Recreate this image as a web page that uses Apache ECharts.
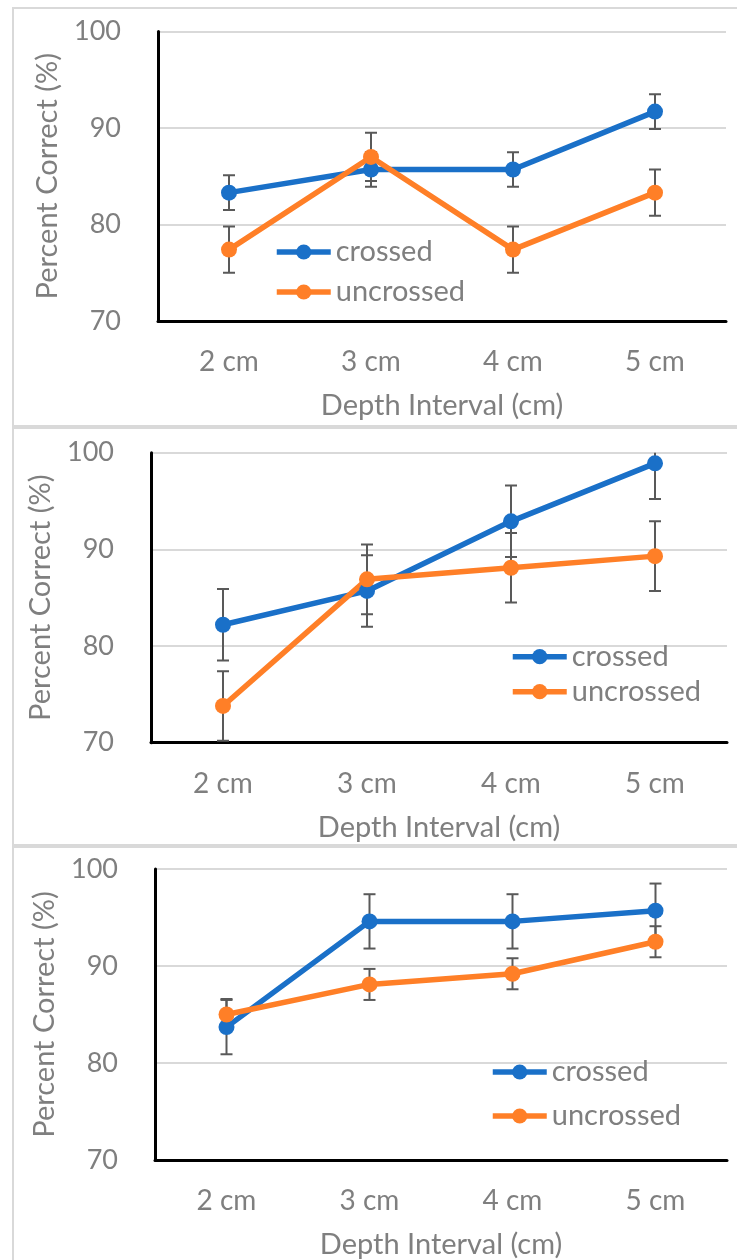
<!DOCTYPE html>
<html>
<head>
<meta charset="utf-8">
<script src="https://cdn.jsdelivr.net/npm/echarts@6/dist/echarts.min.js"></script>
<style>
html,body{margin:0;padding:0;background:#fff;}
#chart{width:737px;height:1260px;}
</style>
</head>
<body>
<div id="chart"></div>
<script>
// ---- data ----
var categories = ["2 cm", "3 cm", "4 cm", "5 cm"];
var yTicks = [70, 80, 90, 100];
var seriesNames = ["crossed", "uncrossed"];

var p1Crossed = [83.3, 85.7, 85.7, 91.7];
var p1CrossedErr = [1.8, 1.8, 1.8, 1.8];
var p1Uncrossed = [77.4, 87.0, 77.4, 83.3];
var p1UncrossedErr = [2.4, 2.5, 2.4, 2.4];

var p2Crossed = [82.2, 85.7, 92.9, 98.9];
var p2CrossedErr = [3.7, 3.7, 3.7, 3.7];
var p2Uncrossed = [73.8, 86.9, 88.1, 89.3];
var p2UncrossedErr = [3.6, 3.6, 3.6, 3.6];

var p3Crossed = [83.7, 94.6, 94.6, 95.7];
var p3CrossedErr = [2.8, 2.8, 2.8, 2.8];
var p3Uncrossed = [85.0, 88.1, 89.2, 92.5];
var p3UncrossedErr = [1.6, 1.6, 1.6, 1.6];

// ---- styles ----
var FONT = "Lato, 'Open Sans', sans-serif";
var TXT = "#7f7f7f";
var BLUE = "#1a70c8";
var ORANGE = "#ff7f27";

var panels = [
  {c: p1Crossed, ce: p1CrossedErr, u: p1Uncrossed, ue: p1UncrossedErr,
   grid: {left: 158, top: 31.5, width: 568, height: 289.5},
   legend: {left: 274, top: 237, gap: 10}},
  {c: p2Crossed, ce: p2CrossedErr, u: p2Uncrossed, ue: p2UncrossedErr,
   grid: {left: 151, top: 452.7, width: 576, height: 290},
   legend: {left: 510, top: 641.7, gap: 5}},
  {c: p3Crossed, ce: p3CrossedErr, u: p3Uncrossed, ue: p3UncrossedErr,
   grid: {left: 155, top: 869, width: 572, height: 291.7},
   legend: {left: 490, top: 1057, gap: 14}}
];

function errData(vals, errs) {
  return vals.map(function (v, i) { return [i, v - errs[i], v + errs[i]]; });
}

function errRender(params, api) {
  var lo = api.coord([api.value(0), api.value(1)]);
  var hi = api.coord([api.value(0), api.value(2)]);
  var w = 6;
  var st = {stroke: "#595959", lineWidth: 2};
  return {
    type: "group",
    children: [
      {type: "line", shape: {x1: lo[0], y1: lo[1], x2: hi[0], y2: hi[1]}, style: st},
      {type: "line", shape: {x1: lo[0] - w, y1: lo[1], x2: lo[0] + w, y2: lo[1]}, style: st},
      {type: "line", shape: {x1: hi[0] - w, y1: hi[1], x2: hi[0] + w, y2: hi[1]}, style: st}
    ]
  };
}

var grids = [], xAxes = [], yAxes = [], series = [], legends = [];
panels.forEach(function (p, k) {
  grids.push(Object.assign({containLabel: false}, p.grid));
  xAxes.push({
    type: "category", gridIndex: k, data: categories,
    name: "Depth Interval (cm)", nameLocation: "middle", nameGap: 70,
    nameTextStyle: {color: TXT, fontFamily: FONT, fontSize: 29},
    axisLine: {lineStyle: {color: "#000", width: 3}},
    axisTick: {show: false},
    axisLabel: {color: TXT, fontFamily: FONT, fontSize: 28, margin: 27},
    splitLine: {show: false}
  });
  yAxes.push({
    type: "value", gridIndex: k, min: yTicks[0], max: yTicks[yTicks.length - 1], interval: 10,
    name: "Percent Correct (%)", nameLocation: "middle", nameGap: 96,
    nameTextStyle: {color: TXT, fontFamily: FONT, fontSize: 29},
    axisLine: {show: true, lineStyle: {color: "#000", width: 3}},
    axisTick: {show: false},
    axisLabel: {color: TXT, fontFamily: FONT, fontSize: 27, margin: 37},
    splitLine: {show: true, lineStyle: {color: "#d9d9d9", width: 2}}
  });
  [[p.c, p.ce, BLUE, seriesNames[0]], [p.u, p.ue, ORANGE, seriesNames[1]]].forEach(function (s) {
    series.push({
      type: "custom", name: s[3] + " error", xAxisIndex: k, yAxisIndex: k, z: 1, clip: true,
      itemStyle: {color: "#595959"},
      renderItem: errRender, data: errData(s[0], s[1]), silent: true
    });
  });
  [[p.c, BLUE, seriesNames[0]], [p.u, ORANGE, seriesNames[1]]].forEach(function (s) {
    series.push({
      type: "line", name: s[2], xAxisIndex: k, yAxisIndex: k, z: 3,
      data: s[0], symbol: "circle", symbolSize: 16,
      lineStyle: {color: s[1], width: 5.5},
      itemStyle: {color: s[1]},
      emphasis: {disabled: true}
    });
  });
  legends.push({
    orient: "vertical", left: p.legend.left, top: p.legend.top,
    padding: 0, itemGap: p.legend.gap, itemWidth: 54, itemHeight: 19,
    data: seriesNames,
    lineStyle: {width: 5.5},
    textStyle: {color: TXT, fontFamily: FONT, fontSize: 29, lineHeight: 30}
  });
});

var chart = echarts.init(document.getElementById("chart"), null, {renderer: "canvas"});
chart.setOption({
  backgroundColor: "#fff",
  animation: false,
  graphic: [
    {type: "rect", shape: {x: 13, y: 8, width: 800, height: 418}, style: {fill: null, stroke: "#d9d9d9", lineWidth: 2}, z: -1},
    {type: "rect", shape: {x: 13, y: 428, width: 800, height: 417}, style: {fill: null, stroke: "#d9d9d9", lineWidth: 2}, z: -1},
    {type: "rect", shape: {x: 13, y: 847, width: 800, height: 500}, style: {fill: null, stroke: "#d9d9d9", lineWidth: 2}, z: -1}
  ],
  grid: grids,
  xAxis: xAxes,
  yAxis: yAxes,
  legend: legends,
  series: series
});
</script>
</body>
</html>
